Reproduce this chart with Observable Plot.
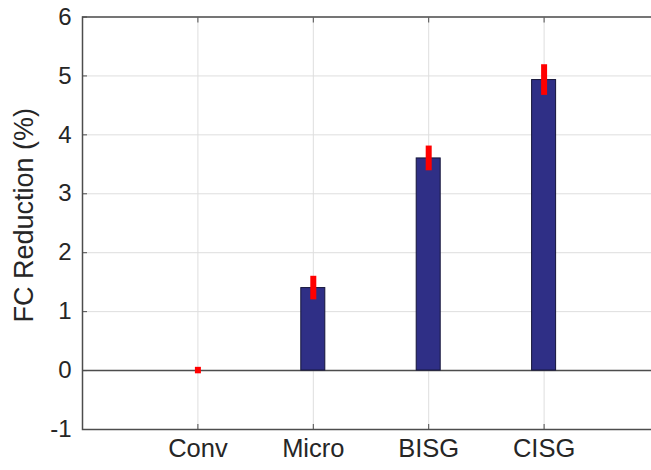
<!DOCTYPE html>
<html><head><meta charset="utf-8">
<script src="https://cdn.jsdelivr.net/npm/d3@7"></script>
<script src="https://cdn.jsdelivr.net/npm/@observablehq/plot@0.6"></script>
<style>
html,body{margin:0;padding:0;background:#fff;overflow:hidden}
#wrap{width:651px;height:470px;overflow:hidden}
#wrap svg{max-width:none !important}
</style></head><body><div id="wrap"></div>
<script>
const categories = ["Conv", "Micro", "BISG", "CISG"];
const values = [0, 1.40, 3.60, 4.93];
const errors = [0.055, 0.20, 0.21, 0.26];
const yTicks = [-1, 0, 1, 2, 3, 4, 5, 6];
const yLabel = "FC Reduction (%)";

const positions = categories.map((c, i) => i + 1);
const data = categories.map((c, i) => ({cat: c, x: positions[i], v: values[i], e: errors[i]}));
const barHalf = 0.104;
const font = "'Liberation Sans', Arial, Helvetica, sans-serif";
const axisColor = "#4d4d4d";

const plot = Plot.plot({
  width: 660, height: 470,
  marginLeft: 82, marginRight: 1, marginTop: 16.5, marginBottom: 41,
  style: {fontFamily: font, fontSize: "24px", color: "#262626", background: "#fff", maxWidth: "none"},
  x: {type: "linear", domain: [0, 5]},
  y: {domain: [-1, 6]},
  marks: [
    Plot.gridY(yTicks, {stroke: "#dedede", strokeOpacity: 1}),
    Plot.gridX(positions, {stroke: "#dedede", strokeOpacity: 1}),
    Plot.ruleY([0], {stroke: axisColor, strokeWidth: 1.6}),
    Plot.rectY(data, {x1: d => d.x - barHalf, x2: d => d.x + barHalf, y1: 0, y2: "v", fill: "#2f2f86", stroke: "#15153a", strokeWidth: 1}),
    Plot.ruleX(data, {x: "x", y1: d => d.v - d.e, y2: d => d.v + d.e, stroke: "#ff0000", strokeWidth: 6}),
    Plot.frame({stroke: axisColor, strokeWidth: 1.5}),
    Plot.axisY(yTicks, {tickSize: -5, tickPadding: 16, tickFormat: d => String(d), label: null, stroke: axisColor, fontSize: 24}),
    Plot.axisX(positions, {anchor: "bottom", tickSize: -5, tickFormat: () => "", label: null, stroke: axisColor}),
    Plot.axisX(positions, {anchor: "top", tickSize: -5, tickFormat: () => "", label: null, stroke: axisColor}),
    Plot.text(data, {x: "x", text: "cat", frameAnchor: "bottom", dy: 27, fill: "#262626", fontSize: 25.5}),
    Plot.text([yLabel], {text: d => d, frameAnchor: "left", textAnchor: "middle", lineAnchor: "middle", rotate: -90, dx: -58, dy: -8, fill: "#262626", fontSize: 27})
  ]
});
document.getElementById("wrap").appendChild(plot);
</script>
</body></html>
